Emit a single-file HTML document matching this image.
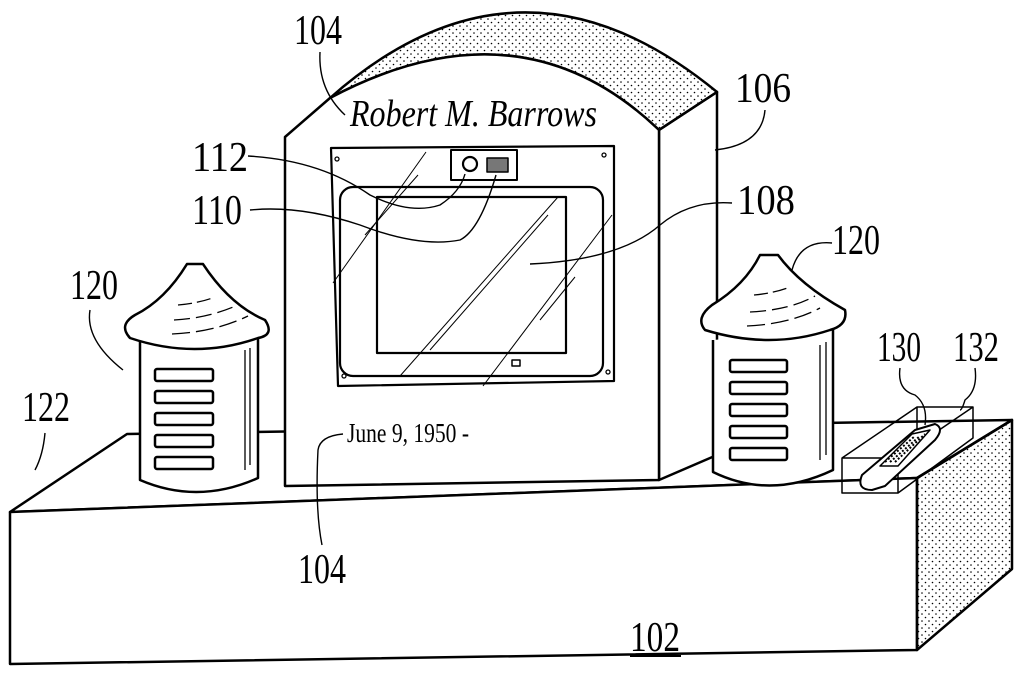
<!DOCTYPE html>
<html><head><meta charset="utf-8"><style>
html,body{margin:0;padding:0;background:#fff;width:1023px;height:682px;overflow:hidden}
svg{display:block}
.n{font-family:"Liberation Serif",serif;font-size:42px;fill:#000}
</style></head><body>
<svg width="1023" height="682" viewBox="0 0 1023 682" xmlns="http://www.w3.org/2000/svg">
<defs>
<pattern id="dots" width="7" height="7" patternUnits="userSpaceOnUse">
<circle cx="1.5" cy="1.5" r="0.8" fill="#000"/><circle cx="5" cy="5" r="0.8" fill="#000"/>
</pattern>
</defs>
<g fill="none" stroke="#000" stroke-width="2.5" stroke-linejoin="round">
<!-- base -->
<path d="M10,512 L127,434 L1012,420 L917,478 Z" fill="#fff"/>
<path d="M10,512 L917,478 L917,650 L10,664 Z" fill="#fff"/>
<path d="M1012,420 L1012,569 L917,650 L917,478 Z" fill="url(#dots)"/>
<!-- headstone side + top -->
<path d="M659,130 L717,92 L717,455 L659,480 Z" fill="#fff"/>
<path d="M330,98 Q520,-70 717,92 L659,130 Q520,-3 330,98 Z" fill="url(#dots)"/>
<path d="M285,137 L330,98 Q520,-3 659,130 L659,480 L285,486 Z" fill="#fff"/>
<!-- screen -->
<path d="M331,148 L614,146 L614,381 L338,386 Z" stroke-width="2.2"/>
<rect x="340" y="187" width="263" height="189" rx="13" stroke-width="2.2"/>
<rect x="377" y="197" width="189" height="156" stroke-width="2.2"/>
<rect x="451" y="150" width="66" height="30" stroke-width="2"/>
<circle cx="470" cy="164" r="7" stroke-width="2.2"/>
<rect x="487" y="158" width="21" height="14" fill="#777" stroke-width="1.5"/>
<rect x="512" y="360" width="8" height="6" stroke-width="1.5"/>
<g stroke-width="1.3"><circle cx="337" cy="159" r="2"/><circle cx="604" cy="155" r="2"/><circle cx="344" cy="376" r="2"/><circle cx="608" cy="372" r="2"/></g>
<g stroke-width="1"><path d="M426,152 L333,283"/><path d="M418,175 L365,235"/><path d="M558,197 L400,376"/><path d="M548,215 L430,350"/><path d="M612,215 L483,386"/><path d="M575,277 L540,320"/></g>
<!-- left speaker -->
<path d="M140,340 L140,480 Q198,505 258,478 L258,335" fill="#fff"/>
<path d="M187,264 L203,264 Q230,305 265,320 Q275,335 258,338 Q195,360 130,338 Q118,325 135,315 Q165,300 187,264 Z" fill="#fff"/>
<g stroke-width="1.3"><path d="M178,305 Q200,303 215,297" stroke-dasharray="14 5"/><path d="M174,320 Q210,318 240,304" stroke-dasharray="16 6"/><path d="M172,334 Q215,332 248,316" stroke-dasharray="18 6"/><path d="M245,350 L245,470 M250,348 L250,465"/></g>
<g stroke-width="2.5"><rect x="155" y="369" width="58" height="12" rx="2"/><rect x="155" y="391" width="58" height="12" rx="2"/><rect x="155" y="413" width="58" height="12" rx="2"/><rect x="155" y="435" width="58" height="12" rx="2"/><rect x="155" y="457" width="58" height="12" rx="2"/></g>
<!-- right speaker -->
<path d="M713,340 L713,472 Q770,500 833,470 L833,330" fill="#fff"/>
<path d="M760,255 L778,255 Q800,285 845,310 Q848,325 830,330 Q770,350 705,330 Q695,318 712,305 Q745,285 760,255 Z" fill="#fff"/>
<g stroke-width="1.3"><path d="M754,295 Q775,293 790,287" stroke-dasharray="14 5"/><path d="M750,312 Q790,310 815,296" stroke-dasharray="16 6"/><path d="M747,326 Q790,324 820,308" stroke-dasharray="18 6"/><path d="M820,345 L820,460 M826,342 L826,455"/></g>
<g stroke-width="2.5"><rect x="730" y="360" width="57" height="12" rx="2"/><rect x="730" y="382" width="57" height="12" rx="2"/><rect x="730" y="404" width="57" height="12" rx="2"/><rect x="730" y="426" width="57" height="12" rx="2"/><rect x="730" y="448" width="57" height="12" rx="2"/></g>
<!-- box 132 -->
<g stroke-width="1.5"><path d="M842,458 L898,458 L898,493 L842,493 Z M842,458 L917,407 L973,407 L973,438 L898,493 M898,458 L973,407 M917,407 L917,430"/></g>
<path d="M862,475 Q856,490 872,490 L885,486 L935,440 Q945,428 935,424 L915,430 Z" fill="#fff" stroke-width="2"/>
<path d="M880,466 L912,434 L930,430 L898,466 Z" fill="none" stroke-width="1.5"/>
<g stroke="#000" stroke-width="2" stroke-dasharray="2 2"><path d="M885,462 L915,436"/><path d="M890,462 L920,436"/><path d="M895,462 L925,434"/></g>
<!-- leaders -->
<g stroke-width="1.4"><path d="M320,52 Q318,90 345,115"/><path d="M248,156 Q320,160 370,195 Q410,215 440,205 Q460,192 465,174"/><path d="M250,210 Q300,205 360,225 Q420,248 460,240 Q480,230 496,175"/><path d="M732,203 Q690,200 660,225 Q620,260 530,264"/><path d="M765,110 Q762,145 715,150"/><path d="M832,243 Q800,240 792,270"/><path d="M90,310 Q85,340 123,370"/><path d="M45,433 Q43,455 35,470"/><path d="M900,368 Q897,390 915,395 Q928,405 925,425"/><path d="M975,368 Q978,390 965,400 Q962,410 960,410"/><path d="M343,434 Q320,436 318,450 Q315,510 322,545"/></g>
</g>
<text class="n" x="294" y="44" textLength="48" lengthAdjust="spacingAndGlyphs">104</text>
<text class="n" x="735" y="102" textLength="56" lengthAdjust="spacingAndGlyphs">106</text>
<text class="n" x="192" y="171" textLength="56" lengthAdjust="spacingAndGlyphs">112</text>
<text class="n" x="192" y="224" textLength="50" lengthAdjust="spacingAndGlyphs">110</text>
<text class="n" x="737" y="214" textLength="58" lengthAdjust="spacingAndGlyphs">108</text>
<text class="n" x="70" y="299" textLength="48" lengthAdjust="spacingAndGlyphs">120</text>
<text class="n" x="832" y="254" textLength="48" lengthAdjust="spacingAndGlyphs">120</text>
<text class="n" x="22" y="421" textLength="48" lengthAdjust="spacingAndGlyphs">122</text>
<text class="n" x="877" y="361" textLength="44" lengthAdjust="spacingAndGlyphs">130</text>
<text class="n" x="953" y="361" textLength="46" lengthAdjust="spacingAndGlyphs">132</text>
<text class="n" x="298" y="583" textLength="48" lengthAdjust="spacingAndGlyphs">104</text>
<text class="n" x="630" y="651" textLength="50" lengthAdjust="spacingAndGlyphs">102</text>
<line x1="630" y1="656" x2="681" y2="656" stroke="#000" stroke-width="2"/>
<text x="350" y="126" font-family="Liberation Serif, serif" font-style="italic" font-size="38" textLength="247" lengthAdjust="spacingAndGlyphs">Robert M. Barrows</text>
<text x="347" y="442" font-family="Liberation Serif, serif" font-size="27" textLength="122" lengthAdjust="spacingAndGlyphs">June 9, 1950 -</text>
</svg>
</body></html>
